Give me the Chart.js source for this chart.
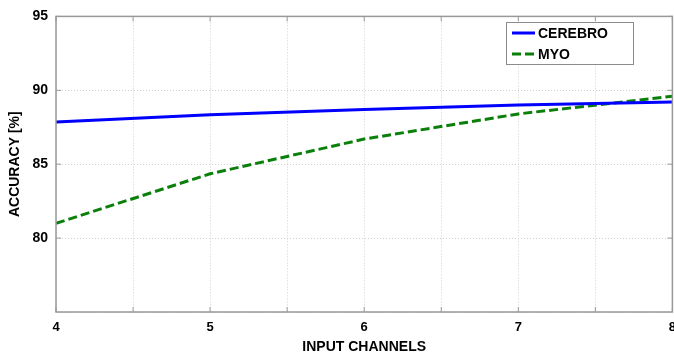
<!DOCTYPE html>
<html>
<head>
<meta charset="utf-8">
<script src="https://cdn.jsdelivr.net/npm/chart.js@4"></script>
<style>
  html, body { margin: 0; padding: 0; background: #fff; overflow: hidden; }
  #wrap { width: 684px; height: 356px; }
</style>
</head>
<body>
<div id="wrap"><canvas id="acc" width="684" height="356"></canvas></div>
<script>
var channels = [4, 5, 6, 7, 8];
var cerebro = [87.85, 88.35, 88.7, 89.0, 89.2];
var myo = [81.0, 84.35, 86.7, 88.4, 89.6];
var yTicks = [80, 85, 90, 95];
var xTicks = [4, 5, 6, 7, 8];

var font = "'Liberation Sans', Arial, sans-serif";

function pts(vals) {
    return channels.map(function (c, i) { return { x: c, y: vals[i] }; });
}

// box, inward ticks and legend like the original figure
var frame = {
    id: 'frame',
    afterDatasetsDraw: function (chart) {
        var ctx = chart.ctx, a = chart.chartArea;
        var xs = chart.scales.x, ys = chart.scales.y;
        ctx.save();
        ctx.strokeStyle = '#999';
        ctx.lineWidth = 1.5;
        ctx.strokeRect(a.left, a.top, a.right - a.left, a.bottom - a.top);
        ctx.lineWidth = 1;
        ctx.beginPath();
        for (var v = 4; v <= 8; v += 0.5) {
            var px = xs.getPixelForValue(v);
            ctx.moveTo(px, a.bottom); ctx.lineTo(px, a.bottom - 5);
            ctx.moveTo(px, a.top); ctx.lineTo(px, a.top + 5);
        }
        yTicks.forEach(function (t) {
            var py = ys.getPixelForValue(t);
            ctx.moveTo(a.left, py); ctx.lineTo(a.left + 5, py);
            ctx.moveTo(a.right, py); ctx.lineTo(a.right - 5, py);
        });
        ctx.stroke();

        // legend
        var bx = 506, by = 22, bw = 127, bh = 42;
        ctx.fillStyle = '#fff';
        ctx.fillRect(bx, by, bw, bh);
        ctx.strokeStyle = '#8c8c8c';
        ctx.strokeRect(bx + 0.5, by + 0.5, bw, bh);
        chart.data.datasets.forEach(function (ds, i) {
            var ly = by + 11 + i * 21;
            ctx.strokeStyle = ds.borderColor;
            ctx.lineWidth = 3;
            ctx.setLineDash(ds.borderDash || []);
            ctx.beginPath();
            ctx.moveTo(bx + 6, ly); ctx.lineTo(bx + 29, ly);
            ctx.stroke();
            ctx.setLineDash([]);
            ctx.fillStyle = '#000';
            ctx.font = 'bold 14px ' + font;
            ctx.textBaseline = 'middle';
            ctx.fillText(ds.label, bx + 32, ly + 1);
        });
        ctx.restore();
    }
};

new Chart(document.getElementById('acc').getContext('2d'), {
    type: 'line',
    data: {
        datasets: [{
            label: 'CEREBRO',
            data: pts(cerebro),
            borderColor: '#0000ff',
            borderWidth: 3,
            pointRadius: 0,
            tension: 0
        }, {
            label: 'MYO',
            data: pts(myo),
            borderColor: '#0a800a',
            borderWidth: 3,
            borderDash: [9, 4],
            pointRadius: 0,
            tension: 0
        }]
    },
    options: {
        responsive: false,
        animation: false,
        layout: { padding: { top: 14, left: 0, right: 0, bottom: 0 } },
        plugins: { legend: { display: false }, tooltip: { enabled: false } },
        scales: {
            x: {
                type: 'linear',
                min: 4, max: 8,
                afterFit: function (s) { s.height = 44; },
                ticks: {
                    stepSize: 0.5,
                    padding: 8,
                    color: '#000',
                    font: { family: font, size: 13, weight: 'bold' },
                    callback: function (v) { return xTicks.indexOf(v) >= 0 ? String(v) : ''; }
                },
                grid: { color: '#d0d0d0', lineWidth: 1, drawTicks: false },
                border: { display: false, dash: [1, 2] },
                title: {
                    display: true,
                    text: 'INPUT CHANNELS',
                    color: '#000',
                    font: { family: font, size: 14, weight: 'bold' },
                    padding: { top: 2, bottom: 0 }
                }
            },
            y: {
                min: 75, max: 95,
                afterFit: function (s) { s.width = 56; },
                ticks: {
                    stepSize: 5,
                    padding: 8,
                    color: '#000',
                    font: { family: font, size: 14, weight: 'bold' },
                    callback: function (v) { return yTicks.indexOf(v) >= 0 ? String(v) : ''; }
                },
                grid: { color: '#d0d0d0', lineWidth: 1, drawTicks: false },
                border: { display: false, dash: [1, 2] },
                title: {
                    display: true,
                    text: 'ACCURACY [%]',
                    color: '#000',
                    font: { family: font, size: 14, weight: 'bold' },
                    padding: { top: 7, bottom: 0 }
                }
            }
        }
    },
    plugins: [frame]
});
</script>
</body>
</html>
